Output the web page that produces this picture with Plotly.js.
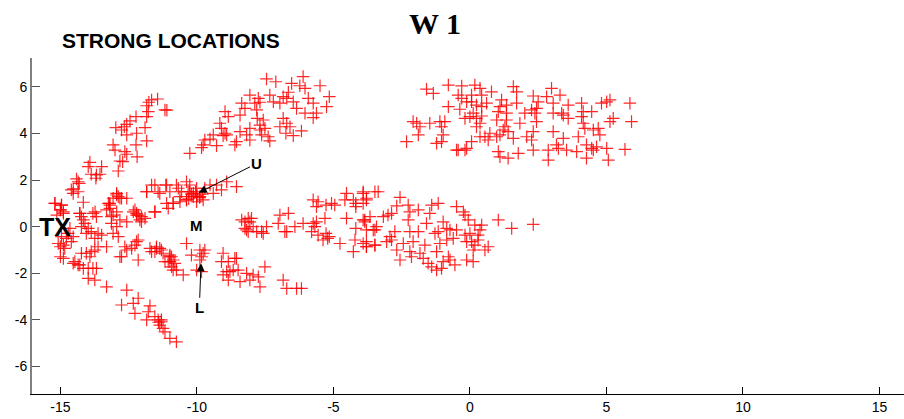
<!DOCTYPE html>
<html>
<head>
<meta charset="utf-8">
<script src="https://cdn.plot.ly/plotly-3.0.1.min.js"></script>
<style>html,body{margin:0;padding:0;background:#fff;}#chart{width:904px;height:419px;}</style>
</head>
<body>
<div id="chart"></div>
<script>
// ---- data (x, y) ----
const armUpperLeft = [[-11.44,5.48],[-11.76,5.34],[-11.84,5.19],[-11.17,5.01],[-11.78,4.94],[-11.84,4.72],[-12.23,4.72],[-12.45,4.54],[-12.57,4.39],[-12.66,4.29],[-12.97,4.25],[-12.76,4.15],[-11.90,4.25],[-12.21,4.01],[-12.57,3.94],[-11.84,3.68],[-12.23,3.51],[-13.07,3.51],[-13.0,3.29],[-12.64,3.22],[-12.57,3.11],[-12.19,3.0],[-12.82,2.82],[-12.72,2.79],[-12.88,2.39],[-13.92,2.76],[-13.98,2.58],[-13.49,2.58],[-13.87,2.25],[-13.55,2.25],[-13.70,2.08],[-14.41,2.05],[-14.31,1.86],[-14.53,1.62],[-14.35,1.50],[-14.53,1.43],[-14.16,1.05],[-15.2,1.0],[-14.96,0.93],[-15.0,0.72],[-14.89,0.64],[-11.66,5.44],[-11.1,5.0],[-13.68,2.22],[-14.6,1.58],[-14.35,1.93]];

const armUpperMiddle = [[-6.11,6.44],[-7.45,6.34],[-7.11,6.22],[-6.53,6.15],[-6.23,6.05],[-6.04,5.94],[-5.49,6.05],[-5.15,5.58],[-6.65,5.77],[-6.84,5.58],[-7.33,5.65],[-7.2,5.36],[-6.96,5.30],[-6.71,5.51],[-6.47,5.36],[-6.35,5.08],[-5.92,5.51],[-5.74,5.30],[-5.25,5.15],[-6.04,4.87],[-5.74,4.68],[-5.62,4.87],[-7.75,5.51],[-7.69,5.34],[-7.88,5.30],[-8.06,5.65],[-8.36,5.30],[-8.24,5.08],[-7.81,5.01],[-7.79,4.65],[-7.57,4.58],[-7.69,4.36],[-7.51,4.22],[-7.69,4.15],[-7.63,3.94],[-8.06,4.22],[-6.84,4.65],[-6.71,4.44],[-6.59,4.29],[-6.96,4.29],[-6.74,4.01],[-6.47,3.91],[-6.17,4.11],[-7.33,3.68],[-7.39,3.86],[-8.18,3.94],[-8.06,3.72],[-8.42,4.08],[-8.61,3.51],[-8.55,3.65],[-8.91,3.94],[-9.04,3.91],[-9.4,3.94],[-9.52,3.76],[-9.16,4.44],[-8.97,4.94],[-8.85,4.72],[-9.1,4.22],[-8.42,4.79],[-9.71,3.72],[-9.77,3.51],[-9.28,3.48],[-9.83,3.39],[-10.26,3.15],[-8.97,4.01]];

const clusterUpperRight = [[-1.59,5.90],[-1.34,5.72],[-0.79,6.08],[-0.30,6.04],[-0.43,5.65],[-0.30,5.51],[-0.12,5.36],[0.06,5.65],[0.18,6.08],[0.37,5.94],[0.43,5.65],[0.79,5.79],[0.06,5.36],[0.61,5.30],[0.43,5.15],[0.12,4.87],[0.0,4.72],[0.43,4.75],[-0.18,4.65],[-0.79,5.15],[-0.37,5.04],[1.59,6.01],[1.71,5.79],[1.16,5.44],[1.1,5.15],[1.34,5.22],[1.71,5.30],[1.04,4.94],[1.34,4.87],[0.98,4.58],[1.34,4.58],[0.37,4.44],[0.24,4.29],[1.28,4.29],[1.22,4.15],[1.40,4.08],[0.73,4.01],[0.55,3.86],[0.67,3.72],[0.37,3.86],[0.06,3.65],[-0.12,3.36],[-0.43,3.29],[1.1,3.94],[1.59,3.79],[1.04,3.22],[1.1,3.0],[1.40,2.94],[1.77,3.15],[2.08,3.86],[2.26,3.72],[2.32,4.08],[2.38,4.87],[2.26,5.01],[2.44,5.08],[2.32,5.61],[2.50,5.36],[2.81,5.58],[2.99,5.94],[3.30,5.65],[2.01,4.87],[2.44,4.51],[2.32,3.29],[3.05,4.87],[3.36,4.87],[3.42,4.79],[3.60,4.65],[3.60,5.22],[3.17,3.51],[3.05,4.08],[3.42,3.79],[2.87,3.29],[3.24,3.36],[3.54,3.29],[3.91,3.22],[2.87,2.86],[4.09,5.30],[4.15,4.94],[4.46,4.94],[4.09,4.72],[4.15,4.44],[4.21,4.22],[3.97,3.86],[4.52,4.15],[4.70,4.22],[4.76,3.94],[4.27,3.51],[4.46,3.36],[4.64,3.43],[4.52,3.29],[4.27,2.94],[5.01,3.36],[4.82,5.30],[5.01,5.36],[5.13,5.44],[5.13,4.51],[5.25,4.65],[5.07,2.86],[5.86,5.30],[5.92,4.51],[5.68,3.32],[1.83,4.44],[0.24,5.22],[3.05,5.30],[-2.08,4.51],[-1.95,4.44],[-1.83,4.29],[-1.89,3.94],[-2.32,3.65],[-1.47,4.44],[-1.10,4.51],[-0.92,4.51],[-1.04,4.29],[-0.98,3.94],[-1.22,3.58],[-1.04,3.65],[0.24,4.65],[-0.18,3.29],[-0.49,3.29],[0.98,3.86]];

const bandU = [[-11.66,1.79],[-11.84,1.50],[-11.42,1.50],[-11.14,1.79],[-10.99,1.50],[-10.68,1.65],[-10.38,1.93],[-10.26,1.79],[-10.32,1.50],[-10.13,1.43],[-10.01,1.29],[-10.62,1.29],[-10.87,1.0],[-11.11,1.0],[-11.05,0.79],[-10.38,1.15],[-11.54,0.64],[-12.94,1.36],[-12.82,1.22],[-13.07,1.22],[-13.19,1.0],[-13.19,0.79],[-12.57,1.22],[-13.07,0.5],[-12.27,0.72],[-12.21,0.5],[-12.03,0.43],[-13.73,0.64],[-14.29,0.57],[-14.23,0.43],[-11.54,1.79],[-11.11,1.79],[-10.75,1.79],[-10.56,1.5],[-10.26,1.5],[-10.01,1.65],[-9.71,1.65],[-9.52,1.79],[-9.28,1.79],[-8.91,1.93],[-8.55,1.72],[-9.1,1.58],[-9.4,1.43],[-9.89,1.29],[-10.13,1.29],[-10.38,1.15],[-9.77,1.15],[-10.01,1.07],[-10.62,1.07],[-10.87,1.0],[-11.84,1.5],[-11.36,1.43],[-12.94,1.43],[-12.76,1.22],[-13.24,1.0],[-10.2,1.4],[-10.0,1.35],[-9.9,1.25],[-10.3,1.2],[-9.8,1.4],[-10.05,1.5]];

const blobTx = [[-15.2,1.0],[-14.96,0.93],[-15.0,0.72],[-14.89,0.57],[-15.13,0.50],[-14.65,-0.07],[-14.71,-0.29],[-14.96,-0.43],[-14.78,-0.5],[-15.08,-0.72],[-14.89,-0.79],[-15.0,-0.86],[-14.84,-0.93],[-14.89,-1.36],[-14.6,-0.64],[-14.53,-0.43],[-14.47,-1.5],[-14.35,-1.64],[-14.16,-1.79],[-13.98,-1.79],[-13.68,-1.79],[-13.98,-2.22],[-13.74,-2.29],[-13.31,-2.58],[-14.23,-1.14],[-14.05,-1.14],[-13.87,-1.07],[-13.92,-1.29],[-14.29,0.57],[-14.16,0.29],[-14.1,0.14],[-14.23,0.0],[-13.98,-0.07],[-14.05,-0.29],[-13.87,-0.21],[-13.81,0.57],[-13.68,0.43],[-13.62,-0.29],[-13.49,-0.36],[-13.74,-0.5],[-13.62,-0.86],[-13.31,-0.86],[-13.74,-1.0],[-13.19,0.93],[-12.88,1.29],[-12.94,0.64],[-13.13,0.43],[-12.82,0.29],[-13.13,0.14],[-12.94,0.0],[-13.07,-0.29],[-12.88,-0.43],[-12.57,0.21],[-12.64,-0.86],[-12.57,-1.0],[-12.82,-1.29],[-12.33,0.64],[-12.21,0.57],[-12.09,0.29],[-12.21,-0.64],[-12.27,-0.79],[-12.39,-0.93],[-12.15,-1.43],[-11.54,0.64],[-11.48,-0.93],[-11.66,-1.07],[-14.53,-1.57],[-14.29,-1.64],[-13.81,-1.79],[-15.0,-1.29],[-13.31,0.72],[-12.15,0.5],[-11.9,0.36],[-12.03,0.21],[-12.15,-0.57],[-12.76,-1.29],[-11.36,-0.93],[-11.72,-0.93]];

const armLowerLeft = [[-12.57,-2.72],[-12.76,-3.36],[-12.33,-3.29],[-12.15,-3.07],[-11.72,-3.4],[-11.78,-3.65],[-12.27,-3.72],[-11.84,-4.0],[-11.54,-3.86],[-11.42,-4.0],[-11.3,-4.08],[-11.36,-4.22],[-11.24,-4.36],[-11.17,-4.51],[-10.99,-4.79],[-10.75,-4.94],[-11.3,-4.0],[-11.4,-4.1]];

const bandL = [[-11.48,-0.86],[-11.54,-1.07],[-11.3,-1.0],[-11.24,-1.14],[-10.99,-1.29],[-11.05,-1.5],[-10.81,-1.57],[-10.93,-1.72],[-10.87,-1.86],[-10.5,-2.07],[-10.38,-0.72],[-10.2,-1.22],[-9.89,-1.0],[-9.77,-1.14],[-9.83,-1.29],[-9.71,-1.0],[-9.89,-1.43],[-10.01,-1.86],[-9.83,-1.93],[-9.04,-1.14],[-9.1,-1.5],[-8.61,-1.36],[-8.91,-1.93],[-9.04,-2.07],[-8.79,-1.93],[-8.67,-1.86],[-8.49,-1.86],[-8.85,-2.29],[-8.42,-2.36],[-8.18,-2.0],[-8.06,-2.29],[-7.75,-2.15],[-7.51,-1.72],[-7.69,-2.58],[-6.84,-2.29],[-6.71,-2.65],[-6.35,-2.65],[-6.17,-2.65],[-7.94,-2.07],[-10.99,-1.22],[-10.87,-1.43],[-8.55,-1.36],[-8.85,-1.5],[-10.93,-1.29],[-10.99,-1.5],[-11.17,-1.5],[-10.75,-1.86]];

const bandMiddle = [[-8.36,0.29],[-8.12,0.36],[-8.06,0.21],[-8.24,-0.07],[-7.94,0.0],[-7.81,-0.21],[-7.57,-0.29],[-7.45,0.0],[-6.96,0.5],[-6.65,0.57],[-7.02,0.14],[-6.78,-0.21],[-6.41,0.0],[-6.11,0.14],[-8.12,-0.21],[-5.74,1.15],[-5.56,1.07],[-5.62,0.86],[-5.27,0.93],[-5.07,1.0],[-4.95,0.93],[-4.52,1.43],[-4.58,1.15],[-4.27,1.15],[-4.18,1.0],[-3.91,1.5],[-3.79,1.22],[-3.48,1.5],[-4.18,0.86],[-8.24,0.21],[-8.0,0.36],[-8.18,-0.14],[-7.63,-0.21],[-6.71,-0.21],[-5.74,0.14],[-5.62,0.21],[-5.68,0.0],[-5.80,-0.21],[-5.31,0.36],[-5.56,-0.36],[-5.27,-0.29],[-5.15,-0.43],[-5.21,-0.5],[-5.38,-0.57],[-4.76,-0.72],[-4.52,0.36],[-4.27,-1.07],[-4.21,-0.57],[-4.18,-0.07],[-3.91,0.29],[-3.66,0.43],[-3.85,0.21],[-3.54,-0.14],[-3.79,-0.64],[-3.79,-0.86],[-3.48,-0.79],[-3.42,0.0]];

const bandRight = [[-3.91,1.43],[-3.36,1.5],[-3.79,1.15],[-3.91,1.0],[-2.56,1.26],[-2.68,0.89],[-2.26,0.93],[-2.2,0.64],[-1.89,0.72],[-1.40,0.93],[-1.16,1.0],[-1.47,0.57],[-0.49,0.86],[-0.24,0.64],[-0.18,0.5],[-0.06,0.29],[0.18,0.07],[0.43,0.07],[0.37,-0.14],[0.30,-0.36],[0.0,-0.29],[-0.18,-0.36],[-0.12,-0.64],[0.06,-0.64],[0.18,-0.79],[0.12,-1.0],[0.67,-0.86],[0.55,-1.0],[0.30,-0.57],[1.04,0.29],[1.53,-0.07],[2.32,0.1],[-0.73,-0.14],[-0.85,-0.07],[-0.49,-0.14],[-0.98,0.21],[-1.28,-0.29],[-1.16,-0.21],[-1.59,0.14],[-1.89,-0.21],[-2.20,-0.21],[-2.26,0.29],[-2.75,-0.21],[-2.87,-0.57],[-2.93,-0.43],[-3.05,-0.64],[-2.44,-0.72],[-2.08,-0.64],[-1.65,-0.79],[-1.10,-0.72],[-0.85,-0.57],[-0.61,-0.5],[-2.68,-1.0],[-2.20,-1.07],[-2.56,-1.43],[-2.14,-1.29],[-1.83,-1.14],[-1.71,-1.36],[-1.53,-1.57],[-1.40,-1.72],[-1.22,-1.86],[-1.04,-1.79],[-0.98,-1.5],[-0.79,-1.29],[-0.73,-1.43],[-0.55,-1.64],[-0.12,-1.43],[0.12,-1.5],[-3.79,-0.14],[-3.48,-0.14],[-3.85,0.29],[-3.17,0.43],[-3.0,0.5],[-2.87,0.57],[-3.91,-0.72],[-3.79,-0.86],[-3.48,-0.79],[-1.22,-1.07]];

const xTickVals = [-15, -10, -5, 0, 5, 10, 15];
const xTickText = ['-15', '-10', '-5', '0', '5', '10', '15'];
const yTickVals = [-6, -4, -2, 0, 2, 4, 6];
const yTickText = ['-6', '-4', '-2', '0', '2', '4', '6'];

// ---- build ----
const allPts = [].concat(armUpperLeft, armUpperMiddle, clusterUpperRight, bandU, blobTx, armLowerLeft, bandL, bandMiddle, bandRight);
const red = 'rgba(255,0,0,0.85)';
const trace = {
  type: 'scatter', mode: 'markers',
  x: allPts.map(p => p[0]), y: allPts.map(p => p[1]),
  marker: {symbol: 'cross-thin-open', size: 9, color: red, line: {color: red, width: 1.2}},
  hoverinfo: 'skip'
};

const fontSans = 'Arial, "Liberation Sans", sans-serif';
const layout = {
  width: 904, height: 419,
  margin: {l: 32, r: 0, t: 58, b: 25, pad: 0},
  paper_bgcolor: '#fff', plot_bgcolor: '#fff',
  showlegend: false,
  title: {text: '<b>W 1</b>', x: 435/904, xref: 'container', xanchor: 'center',
          y: 1 - 23/419, yref: 'container', yanchor: 'middle',
          font: {family: '"Liberation Serif", "Times New Roman", serif', size: 30, color: '#000'}},
  xaxis: {range: [-16.04, 15.9], tickmode: 'array', tickvals: xTickVals, ticktext: xTickText,
          ticks: 'inside', ticklen: 7, tickwidth: 1, tickcolor: '#000',
          showline: true, linecolor: '#000', linewidth: 1, showgrid: false, zeroline: false,
          tickfont: {family: fontSans, size: 14, color: '#000'}, fixedrange: true},
  yaxis: {range: [-7.18, 7.24], tickmode: 'array', tickvals: yTickVals, ticktext: yTickText,
          ticks: 'inside', ticklen: 8, tickwidth: 1, tickcolor: '#555',
          showline: true, linecolor: '#808080', linewidth: 2, showgrid: false, zeroline: false,
          tickfont: {family: fontSans, size: 14, color: '#000'}, fixedrange: true},
  annotations: [
    {text: '<b>STRONG LOCATIONS</b>', xref: 'paper', yref: 'paper', x: (60-32)/872, y: (394-41)/336,
     xanchor: 'left', yanchor: 'middle', showarrow: false, font: {family: fontSans, size: 21, color: '#000'}},
    {text: '<b>TX</b>', xref: 'x', yref: 'y', x: -15.2, y: 0, xanchor: 'center', yanchor: 'middle',
     showarrow: false, font: {family: fontSans, size: 25, color: '#000'}},
    {text: '<b>M</b>', xref: 'x', yref: 'y', x: -10.01, y: 0.07, showarrow: false,
     font: {family: fontSans, size: 15, color: '#000'}},
    {text: '<b>U</b>', xref: 'x', yref: 'y', x: -9.93, y: 1.46, axref: 'x', ayref: 'y', ax: -7.8, ay: 2.72,
     showarrow: true, arrowhead: 2, arrowsize: 1.6, arrowwidth: 1, arrowcolor: '#000',
     font: {family: fontSans, size: 15, color: '#000'}},
    {text: '<b>L</b>', xref: 'x', yref: 'y', x: -9.85, y: -1.57, axref: 'x', ayref: 'y', ax: -9.91, ay: -3.48,
     showarrow: true, arrowhead: 2, arrowsize: 1.6, arrowwidth: 1, arrowcolor: '#000',
     font: {family: fontSans, size: 15, color: '#000'}}
  ]
};

Plotly.newPlot('chart', [trace], layout, {displayModeBar: false, staticPlot: true});
</script>
</body>
</html>
